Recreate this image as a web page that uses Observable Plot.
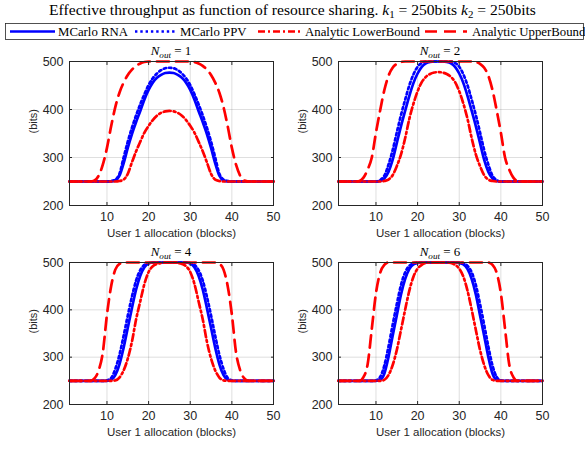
<!DOCTYPE html>
<html>
<head>
<meta charset="utf-8">
<script src="https://cdn.jsdelivr.net/npm/d3@7"></script>
<script src="https://cdn.jsdelivr.net/npm/@observablehq/plot@0.6"></script>
<style>
  html, body { margin: 0; padding: 0; background: #fff; }
  body { width: 585px; height: 449px; position: relative; overflow: hidden; font-family: "Liberation Serif", "DejaVu Serif", serif; color: #000; }
  #title { position: absolute; left: 0; top: 0px; width: 585px; text-align: center; font-size: 15.6px; line-height: 20px; white-space: nowrap; }
  #title sub, .ptitle sub { font-size: 70%; vertical-align: -3px; line-height: 0; }
  #legend { position: absolute; left: 5px; top: 23px; }
  .ptitle { position: absolute; width: 204px; text-align: center; font-size: 13px; line-height: 16px; white-space: nowrap; }
  .panel { position: absolute; }
</style>
</head>
<body>
<div id="title">Effective throughput as function of resource sharing. <i>k</i><sub>1</sub> = 250bits <i>k</i><sub>2</sub> = 250bits</div>
<svg id="legend" width="580" height="17"></svg>
<div id="root"></div>
<script>
// ---------- data ----------
const blocks = [1,2,3,4,5,6,7,8,9,10,11,12,13,14,15,16,17,18,19,20,21,22,23,24,25,26,27,28,29,30,31,32,33,34,35,36,37,38,39,40,41,42,43,44,45,46,47,48,49,50];

const panelTitles = ["1", "2", "4", "6"];
const seriesNames = ["MCarlo RNA", "MCarlo PPV", "Analytic LowerBound", "Analytic UpperBound"];
const xTicks = [10, 20, 30, 40, 50];
const yTicks = [200, 300, 400, 500];
const xLabel = "User 1 allocation (blocks)";
const yLabel = "(bits)";

// N_out = 1
const rna1 = [250,250,250,250,250,250,250,250,250,250,250,252,262,288,320,349,374,397,421,441,456,466,472,476,477,476,472,466,456,441,421,397,374,349,320,288,262,252,250,250,250,250,250,250,250,250,250,250,250,250];
const ppv1 = [250,250,250,250,250,250,250,250,250,250,251,254,266,300,333,362,388,411,432,451,465,475,482,486,487,486,482,475,465,451,432,411,388,362,333,300,266,254,251,250,250,250,250,250,250,250,250,250,250,250];
const lb1  = [250,250,250,250,250,250,250,250,250,250,250,250,251,254,266,290,313,333,352,366,378,387,393,396,397,396,393,387,378,366,352,333,313,290,266,254,251,250,250,250,250,250,250,250,250,250,250,250,250,250];
const ub1  = [250,250,250,250,250,250,252,262,285,320,365,405,435,456,472,483,491,496,499,500,500,500,500,500,500,500,500,500,500,500,499,496,491,483,472,456,435,405,365,320,285,262,252,250,250,250,250,250,250,250];
// N_out = 2
const rna2 = [250,250,250,250,250,250,250,250,250,250,251,256,270,295,330,365,397,428,455,475,489,496,499,500,500,500,499,496,489,475,455,428,397,365,330,295,270,256,251,250,250,250,250,250,250,250,250,250,250,250];
const ppv2 = [250,250,250,250,250,250,250,250,250,250,253,262,285,315,352,388,420,450,473,489,497,500,500,500,500,500,500,500,497,489,473,450,420,388,352,315,285,262,253,250,250,250,250,250,250,250,250,250,250,250];
const lb2  = [250,250,250,250,250,250,250,250,250,250,250,251,254,263,282,306,340,380,412,438,457,468,474,477,478,477,474,468,457,438,412,380,340,306,282,263,254,251,250,250,250,250,250,250,250,250,250,250,250,250];
const ub2  = [250,250,250,250,250,251,258,275,300,352,398,440,470,487,495,499,500,500,500,500,500,500,500,500,500,500,500,500,500,500,500,500,500,499,495,487,470,440,398,352,300,275,258,251,250,250,250,250,250,250];
// N_out = 4
const rna4 = [250,250,250,250,250,250,250,250,250,250,252,262,285,320,362,404,443,472,490,498,500,500,500,500,500,500,500,500,500,498,490,472,443,404,362,320,285,262,252,250,250,250,250,250,250,250,250,250,250,250];
const ppv4 = [250,250,250,250,250,250,250,250,250,251,256,275,305,345,388,428,462,484,495,499,500,500,500,500,500,500,500,500,500,499,495,484,462,428,388,345,305,275,256,251,250,250,250,250,250,250,250,250,250,250];
const lb4  = [250,250,250,250,250,250,250,250,250,250,250,251,257,272,297,333,380,418,455,480,492,497,499,500,500,500,499,497,492,480,455,418,380,333,297,272,257,251,250,250,250,250,250,250,250,250,250,250,250,250];
const ub4  = [250,250,250,250,250,250,255,272,310,390,450,485,497,500,500,500,500,500,500,500,500,500,500,500,500,500,500,500,500,500,500,500,500,500,500,500,497,485,450,390,310,272,255,250,250,250,250,250,250,250];
// N_out = 6
const rna6 = [250,250,250,250,250,250,250,250,250,250,252,265,300,345,388,432,465,486,496,499,500,500,500,500,500,500,500,500,500,499,496,486,465,432,388,345,300,265,252,250,250,250,250,250,250,250,250,250,250,250];
const ppv6 = [250,250,250,250,250,250,250,250,250,251,258,282,322,368,412,452,479,493,498,500,500,500,500,500,500,500,500,500,500,500,498,493,479,452,412,368,322,282,258,251,250,250,250,250,250,250,250,250,250,250];
const lb6  = [250,250,250,250,250,250,250,250,250,250,250,252,262,283,315,357,400,440,470,487,495,499,500,500,500,500,500,499,495,487,470,440,400,357,315,283,262,252,250,250,250,250,250,250,250,250,250,250,250,250];
const ub6  = [250,250,250,250,250,250,258,285,360,435,478,495,500,500,500,500,500,500,500,500,500,500,500,500,500,500,500,500,500,500,500,500,500,500,500,500,500,495,478,435,360,285,258,250,250,250,250,250,250,250];

// ---------- styles ----------
const styles = [
  {stroke: "#0000ff", dash: null},
  {stroke: "#0000ff", dash: "2.4,2.9"},
  {stroke: "#ff0000", dash: "7,3,2,3"},
  {stroke: "#ff0000", dash: "12,7"}
];
const LW = 2.7;
const INK = "#262626";

// ---------- legend ----------
(function () {
  const svg = d3.select("#legend");
  svg.append("rect").attr("x", 0.5).attr("y", 0.5).attr("width", 578).attr("height", 16)
    .attr("fill", "#fff").attr("stroke", INK).attr("stroke-width", 0.8);
  const items = [
    {x1: 5, x2: 50, tx: 53},
    {x1: 130, x2: 172, tx: 175},
    {x1: 253, x2: 295, tx: 300},
    {x1: 420, x2: 462, tx: 467}
  ];
  items.forEach((it, i) => {
    svg.append("line").attr("x1", it.x1).attr("x2", it.x2).attr("y1", 8.5).attr("y2", 8.5)
      .attr("stroke", styles[i].stroke).attr("stroke-width", LW)
      .attr("stroke-dasharray", styles[i].dash);
    svg.append("text").attr("x", it.tx).attr("y", 12.5)
      .attr("font-family", "'Liberation Serif', serif").attr("font-size", 12.8)
      .text(seriesNames[i]);
  });
})();

// ---------- panels ----------
const panels = [
  {n: 0, rna: rna1, ppv: ppv1, lb: lb1, ub: ub1, L: 69,  T: 61,  R: 273, B: 205},
  {n: 1, rna: rna2, ppv: ppv2, lb: lb2, ub: ub2, L: 338, T: 61,  R: 542, B: 205},
  {n: 2, rna: rna4, ppv: ppv4, lb: lb4, ub: ub4, L: 69,  T: 262, R: 273, B: 404},
  {n: 3, rna: rna6, ppv: ppv6, lb: lb6, ub: ub6, L: 338, T: 262, R: 542, B: 404}
];

const root = document.getElementById("root");
const mL = 52, mR = 12, mT = 6, mB = 42;

panels.forEach(p => {
  const rows = blocks.map((b, i) => ({b, rna: p.rna[i], ppv: p.ppv[i], lb: p.lb[i], ub: p.ub[i]}));
  const keys = ["rna", "ppv", "lb", "ub"];
  const lineMarks = keys.map((k, i) => Plot.line(rows, {
    x: "b", y: k, stroke: styles[i].stroke, strokeWidth: LW,
    strokeDasharray: styles[i].dash || undefined, curve: "monotone-x"
  }));
  const chart = Plot.plot({
    width: (p.R - p.L) + mL + mR,
    height: (p.B - p.T) + mT + mB,
    marginLeft: mL, marginRight: mR, marginTop: mT, marginBottom: mB,
    style: {background: "transparent", fontFamily: "'Liberation Sans', Arial, sans-serif", fontSize: "12.5px", color: INK, overflow: "visible"},
    x: {domain: [1, 50]},
    y: {domain: [200, 500]},
    marks: [
      Plot.gridX([10, 20, 30, 40], {stroke: INK, strokeOpacity: 0.15, strokeWidth: 1}),
      Plot.gridY([300, 400], {stroke: INK, strokeOpacity: 0.15, strokeWidth: 1}),
      ...lineMarks,
      Plot.frame({stroke: INK, strokeWidth: 1}),
      Plot.axisX(xTicks, {anchor: "bottom", tickSize: -3, tickPadding: 10, label: null, stroke: INK, fill: INK}),
      Plot.axisX(xTicks, {anchor: "top", tickSize: -3, tickFormat: () => "", label: null, stroke: INK}),
      Plot.axisY(yTicks, {anchor: "left", tickSize: -3, tickPadding: 9, label: null, stroke: INK, fill: INK}),
      Plot.axisY(yTicks, {anchor: "right", tickSize: -3, tickFormat: () => "", label: null, stroke: INK}),
      Plot.text([yLabel], {text: d => d, frameAnchor: "left", dx: -36, rotate: -90, fontSize: 11, fill: INK}),
      Plot.text([xLabel], {text: d => d, frameAnchor: "bottom", dy: 31, fontSize: 11.5, fill: INK})
    ]
  });
  chart.classList.add("panel");
  chart.style.left = (p.L - mL) + "px";
  chart.style.top = (p.T - mT) + "px";
  root.appendChild(chart);

  const t = document.createElement("div");
  t.className = "ptitle";
  t.style.left = p.L + "px";
  t.style.top = (p.T - 18) + "px";
  t.innerHTML = "<i>N</i><sub><i>out</i></sub> = " + panelTitles[p.n];
  root.appendChild(t);
});
</script>
</body>
</html>
